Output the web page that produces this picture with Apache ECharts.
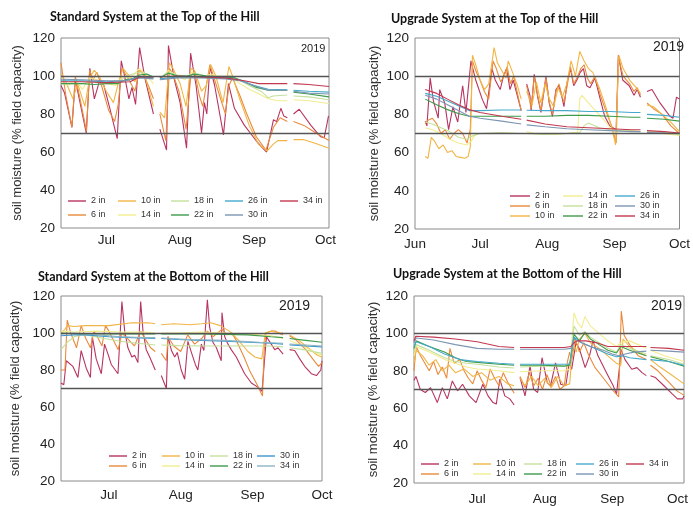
<!DOCTYPE html>
<html><head><meta charset="utf-8">
<script src="https://cdn.jsdelivr.net/npm/echarts@6/dist/echarts.min.js"></script>
<style>html,body{margin:0;padding:0;background:#fff}#c{width:693px;height:506px}</style>
</head><body><div id="c"></div>
<script>
// ---------- labels ----------
const depths = ['2 in','6 in','10 in','14 in','18 in','22 in','26 in','30 in','34 in'];
const monthTicks = [0,30,61,92,122];          // days since Jun 1
const monthLabels = ['Jun','Jul','Aug','Sep','Oct'];
const refLines = [100,70];
const panelTitles = ['Standard System at the Top of the Hill','Upgrade System at the Top of the Hill',
  'Standard System at the Bottom of the Hill','Upgrade System at the Bottom of the Hill'];
const yearLabel = '2019';
const yName = 'soil moisture (% field capacity)';
const G = null; // gap in record

// ---------- Panel 1: Standard, top of hill ----------
const p1_2in = [[11,95],[12.5,91],[15.6,73],[17,98],[18,92],[21.6,70],[23.1,104],[25,88],[27.3,98],[29,95],[31.5,83],[34.6,67],[36.3,108],[37.7,100],[39.5,88],[40.8,94],[42.3,85],[44,115],[46.2,99],[49.8,80],G,[52.5,72],[55.3,61],[56.1,116],[58.6,98],[61,86],[63.7,62],[65.4,112],[67.7,95],[70,70],[71.2,86],[72.2,80],[73.5,105],[75.5,95],[79.2,69],[81.3,96],[83.8,83],[88,74],[93.5,65],[97.3,60],[100.2,77],[101.5,76],[103.3,83],[104.5,79],[106,78],G,[108.6,80],[111,82.5],[115.9,74],[120,68],[121.5,67.5],[123.3,79]];
const p1_6in = [[11,107],[13,90],[15.6,73],[17,100],[19,88],[21.7,71],[23,103],[24.5,98],[26,102],[28,95],[31,82],[33.5,76],[35,85],[36.5,104],[38,101],[40,97],[42,92],[44,103],[46,100],[48,94],[49.8,88],G,[52.5,80],[55,66],[56.5,104],[58,101],[60.5,92],[63.5,72],[65.5,100],[67,103],[69,90],[70.5,84],[73.5,106],[75,100],[78,88],[80,80],[81.5,95],[83,99],[86,90],[89,80],[93,68],[97,61],[100.2,73],[103,78],[106,76],G,[108.6,76],[113,74],[118,70],[123.5,66]];
const p1_10in = [[11,101],[13,97],[16,88],[18,96],[21,84],[23,99],[25,103],[27,100],[30,92],[33,86],[35,96],[37,104],[39,101],[42,97],[44,103],[46,101],[48,92],[49.8,84],G,[52.5,81],[54.5,78],[56.5,107],[58,104],[61,96],[63.5,84],[65.5,104],[67,103],[70,92],[72,95],[73.8,106],[76,100],[79,86],[81.5,105],[83,100],[86,88],[90,74],[94,64],[97.5,60.5],[100,64],[102,66],[106,66],G,[108.6,66.5],[113,66.5],[118,64.5],[123.5,62]];
const p1_14in = [[11,97],[14,95],[17,98],[20,93],[23,99],[26,98],[30,96],[34,95],[37,100],[40,99],[44,104],[47,100],[49.8,96],G,[52.5,98],[56,103],[60,100],[63,98],[66,102],[70,99],[74,101],[78,99],[82,100],[86,96],[90,93],[95,90],[98,88],[102,87],[106,87],G,[108.6,87.5],[115,87],[123.5,85.5]];
const p1_18in = [[11,96],[15,96],[20,96],[25,97],[30,96.5],[35,96],[38,100],[44,102],[47,101],[49.8,99],G,[52.5,99],[56,102],[60,100.5],[64,100],[67,101.5],[72,100],[76,100],[82,100],[86,98],[90,95],[95,92],[98,88.5],[100,89.5],[106,90],G,[108.6,89.5],[115,89],[123.5,87.5]];
const p1_22in = [[11,96],[20,96],[25,95.5],[30,96],[35,96],[38,98],[41,98.5],[44,100.5],[47,101],[49.8,99.5],G,[52.5,99],[56,101.5],[60,100],[64,100],[67,101],[72,100],[78,99.5],[84,99],[88,97],[93,94],[98,92.5],[106,92.5],G,[108.6,91.5],[115,90.5],[123.5,89]];
const p1_26in = [[11,97.5],[20,97.5],[30,97],[38,97.5],[44,99.5],[49.8,99],G,[52.5,98.5],[60,99.5],[70,99.5],[80,99],[86,98],[92,95],[98,93],[106,92.8],G,[108.6,92.5],[115,92],[123.5,91.5]];
const p1_30in = [[11,98.3],[20,98],[30,97.5],[38,97.5],[44,99],[49.8,98.5],G,[52.5,98],[60,99],[70,99],[80,98.5],[86,97.5],[92,95],[98,92.5],[106,92.5],G,[108.6,92],[115,91],[123.5,90.5]];
const p1_34in = [[11,97],[20,97],[30,96.5],[40,97],[44,99.5],[49.8,99.5],G,[52.5,99.5],[60,100],[70,99.5],[80,99],[88,97.5],[94,96],[100,96],[106,96],G,[108.6,96],[115,95.5],[123.5,94.5]];

// ---------- Panel 2: Upgrade, top of hill ----------
const p2_2in = [[4.7,76.5],[5.5,74],[7,99],[8.5,87],[10.7,78],[11.4,93],[13.7,86],[15.5,72],[17.5,84],[19.7,76],[20.5,75],[22,95],[23.5,81],[25.8,108],[28,98],[31,88],[33,83],[35.5,104],[37,98],[39.3,93],[40.8,100],[42.3,104],[43.8,93],[45.3,98],[49,82],G,[51.5,96],[53,90],[53.6,82],[55,101],[56.6,89],[58.1,81],[60.4,100],[61.9,86],[63.4,79],[65,93],[66.4,95],[68,88],[68.7,84],[70.2,97],[71.7,104],[73.2,95],[74.7,98],[76.2,102],[77.7,104],[79.2,95],[80.7,94],[83,99],[85.2,89],[87.5,79],[89.8,74],[91.3,73],[92.8,72],[93.8,111],[95.8,98],[98.8,95],[101,90],[102.5,93],[104,89],G,[107,92],[109.3,93],[113,86],[117.6,79],[119,78],[120.6,89],[122,88]];
const p2_6in = [[4.7,75],[6,77],[8,78],[10,75],[12,70],[14,72],[16,67],[18,70],[20,72],[22,70],[24,65],[25.5,72],[26.5,108],[28,103],[30,98],[32,92],[34,88],[36,108],[37.5,104],[39.5,97],[41,100],[42.5,105],[44,96],[45.5,100],[49,82],G,[51.5,95],[53.6,83],[55,100],[56.6,90],[58.1,82],[60.4,99],[62,86],[63.4,80],[65,92],[66.4,96],[68.7,86],[70.2,95],[71.7,105],[73.2,96],[74.7,99],[76.5,104],[78,106],[79.5,99],[81,96],[83,100],[85.5,90],[88,82],[91,73],[92.8,65],[93.8,110],[96,100],[99,96],[101,92],[102.5,94],[104,90],G,[107,86],[110,83],[114,80],[118,74],[122,70]];
const p2_10in = [[4.7,58],[6,57],[7.5,68],[9,66],[11,62],[13,64],[15,60],[17,61],[19,58],[21,57.5],[23,57],[24.5,58],[25.5,63],[26.5,111],[28,106],[30,98],[32,93],[34,96],[36.5,115],[38,107],[40,103],[42,99],[43,108],[45,102],[47,96],[49,88],G,[51.5,92],[54,85],[56,97],[58,86],[60,96],[62,88],[64,84],[66,94],[68,89],[70,96],[72,108],[74,100],[76,113],[78,108],[80,104],[82,102],[85,94],[88,84],[91,72],[92.5,64],[94,111],[96,104],[99,98],[102,94],[104,91],G,[107,85],[110,84],[114,80],[118,76],[122,71]];
const p2_14in = [[4.7,73],[8,72],[12,70],[16,67],[20,65],[24,64],[26,66],[28,70],[30,70],[35,70],[40,70],[45,70],[49,70],G,[51.5,71],[55,70],[60,69.5],[65,69.5],[70,70],[73,70.5],[75,70.5],[76,88],[77,90],[80,86],[84,81],[88,76],[92,70],[96,72],[100,71.5],[104,71],G,[107,70.5],[114,70],[122,69]];
const p2_18in = [[4.7,76],[8,75],[12,73],[16,71],[20,68],[24,67],[26,68.5],[30,70],[40,70.5],[49,70],G,[51.5,70],[60,69.5],[70,70],[76,70.5],[78,74],[80,75.5],[85,73],[90,72],[95,71.5],[104,71],G,[107,71],[115,70.5],[122,69.5]];
const p2_22in = [[4.7,88],[10,85],[15,82.5],[20,80.5],[25,79],[30,79],[40,79],[49,79],G,[51.5,79],[60,79],[70,79.5],[80,79.5],[90,79],[100,78.5],[104,78.5],G,[107,78],[115,77.5],[122,76.5]];
const p2_26in = [[4.7,91],[10,89.5],[15,87],[20,84.5],[25,82],[30,82],[40,82.3],[49,82.3],G,[51.5,82.2],[60,82],[70,82],[80,81.5],[90,81.5],[100,81],[104,81],G,[107,80],[115,79.5],[122,78.5]];
const p2_30in = [[4.7,90],[10,88],[15,85],[20,82],[25,79],[30,78],[40,76.5],[49,75],G,[51.5,74.5],[60,73.5],[70,72.5],[80,72],[90,71.5],[100,71],[104,71],G,[107,70.5],[115,70.3],[122,70]];
const p2_34in = [[4.7,93],[10,91],[15,88],[20,85],[25,82.5],[30,81],[40,79],[49,77.5],G,[51.5,77],[60,75],[70,73.5],[80,73],[90,72.5],[100,72],[104,72],G,[107,71.5],[115,71],[122,70.3]];

// ---------- Panel 3: Standard, bottom of hill ----------
const p3_2in = [[9.3,73],[10.5,72],[11.6,85],[14.4,82],[16.6,76],[18,90.5],[20.2,81],[22,76],[22.8,98],[24.5,86],[26.7,78],[28.1,94],[29.6,88.6],[31,83],[33.9,78],[35.6,117],[36.8,101],[38.2,92],[39.9,87],[41.1,88],[42.5,84],[43.7,117],[44.7,101],[46.1,91],[47.6,87],[50,80],G,[52.6,77],[54.8,70],[55.5,98],[57,90.5],[58.4,87],[59.5,89.5],[61.2,80],[62.7,75],[64.1,95.5],[65.6,89.5],[67.3,83],[68.4,80],[69.9,94],[71,90.5],[72.5,118],[73.5,103],[74.9,95],[76.4,92],[78.5,85],[78.8,111],[80,98],[81.4,94],[82.8,91],[85,87],[88.6,78],[91.5,73],[94.4,70.6],[96.1,68.5],[98,98],[100.1,94],[101.6,91],[103,92],[105.2,88.6],G,[108,91],[110.2,90.5],[112.4,86],[114.5,82],[117.4,78],[119.6,77],[121.5,80],[122,85]];
const p3_6in = [[9.3,80],[11,80],[12,107],[13.5,100],[16,92],[18,104],[20,97],[22,92],[23.5,101],[25,98],[27,93],[28.5,104],[30,101],[32,96],[34,91],[35.6,100],[38,97],[41,93],[43.7,101],[46,96],[48,92],[50,90],G,[52.6,89],[54.8,85],[55.5,98],[58,93],[61,90],[64,99],[67,94],[70,97],[72.5,101],[75,98],[78.8,102],[81,99],[83,100],[85,96],[88,88],[91,79],[94,72],[96.3,66],[97,90],[97.7,100],[100,101],[102,101],[104,99.5],[105.2,99],G,[108,98.5],[111,96],[115,91],[118,86],[120.5,82],[122,84]];
const p3_10in = [[9.3,100],[11,102],[12,104],[15,103.5],[20,104],[30,104],[40,105.5],[47,105.5],[50,105],G,[52.6,104.5],[58,105],[65,104.5],[70,105],[74,105.5],[78,104],[82,101],[86,96],[90,90],[93,87],[96,86],[97.5,100],[100,101],[104,100],[105.2,100],G,[108,99],[112,96],[116,92],[120,88],[122,87]];
const p3_14in = [[9.3,101],[15,100.5],[25,101],[35,100.5],[45,100.5],[50,100],G,[52.6,100],[60,100],[70,100.5],[80,100],[88,99.5],[95,99],[100,98.5],[105.2,97],G,[108,96],[114,93],[118,90],[122,88]];
const p3_18in = [[9.3,91],[12,95],[15,98],[18,99],[22,98.5],[28,97],[35,95.5],[42,94.5],[50,93.5],G,[52.6,93.5],[60,93.2],[70,93],[80,93],[90,93],[95,93],[100,93],[105.2,92.5],G,[108,92],[114,91],[122,89]];
const p3_22in = [[9.3,100],[20,99.5],[30,99.5],[40,99.5],[50,99.5],G,[52.6,99.5],[70,99.5],[90,99],[100,98],[105.2,97.5],G,[108,97],[115,96],[122,95]];
const p3_30in = [[9.3,98.5],[15,99],[20,99],[30,98],[40,97.5],[50,97],G,[52.6,97],[60,96.5],[70,96],[80,95.5],[90,95],[100,94.5],[105.2,94],G,[108,93.5],[115,93],[122,92.5]];
const p3_34in = [[9.3,99.5],[15,100],[25,99],[35,98],[45,97.5],[50,97.5],G,[52.6,97.3],[65,96.5],[80,96],[95,95],[105.2,94.5],G,[108,94],[115,93.5],[122,93]];

// ---------- Panel 4: Upgrade, bottom of hill ----------
const p4_2in = [[1,75],[1.9,77],[3.9,70],[6.2,68.4],[8.6,71],[11.7,63],[14,71],[16.3,65],[18.6,74.6],[21,69.3],[23.3,72.8],[26.4,66.6],[29.5,63],[32.6,72.8],[35,66.6],[37.3,63],[38.8,62.2],[40.4,75.5],[42.7,66.6],[45,65],[47,61.7],G,[49.7,76.4],[52,66.6],[54.3,82.6],[55.9,70.2],[57.8,68.4],[59.8,87],[62.2,73.7],[63.7,72],[66,84.3],[68.4,72.8],[70.7,72],[72.3,84.3],[73.4,80.8],[75.4,95],[77,91.6],[79.6,81.7],[81.6,88],[83.2,96],[85.5,88],[89.4,79],[92.5,72],[94,67.5],[95.6,84.3],[96,91.6],[97.9,86],[101,80.8],[103.4,81.7],[105.7,79],[107.7,77.4],G,[109.6,77.4],[111.9,76.4],[115.8,72],[119.7,67.5],[122,65],[124.4,65],[125,66.6]];
const p4_6in = [[1,80],[2,93],[4,88],[6,84],[8,80],[10,85],[12,78],[14,82],[16,76],[17.5,92],[19.5,84],[22,86],[24,80],[26,76],[28,73],[30,80],[32,75],[34,71],[36,81],[38,76],[40,72],[42,79],[44,74],[47,68],G,[49.7,77],[52,71],[54,79],[56,72],[58,76],[60,70],[62,78],[64,72],[66,77],[68,70],[70,72],[71.5,85],[72.5,90],[73.5,86],[75,97],[77,90],[79,95],[81,89],[84,82],[88,76],[92,70],[95,66],[96.2,112],[97.5,99],[100,94],[104,88],[107.7,86],G,[109.6,83],[113,80],[118,74],[122,69],[125,67]];
const p4_10in = [[1,84],[2,91],[5,88],[8,83],[11,86],[14,80],[17,83],[20,79],[24,81],[28,77],[32,79],[36,75],[40,77],[44,73],[47,72],G,[49.7,76],[52,72],[55,77],[58,72],[61,76],[64,71],[67,77],[70,72],[72.5,73],[74,96],[75.5,90],[77,97],[79.5,100],[82,95],[86,92],[90,88],[94,84],[96,83],[97,97],[100,93],[104,90],[107.7,88],G,[109.6,86],[114,82],[119,78],[125,73]];
const p4_14in = [[1,88],[2,93],[8,90],[15,86],[20,84],[25,82],[30,81],[40,80],[47,79],G,[49.7,79.5],[60,80],[70,80],[72.5,81],[74.5,111],[76,106],[78,103],[79.5,109],[82,104],[86,100],[90,96],[94,93],[96,95],[100,96],[104,94],[107.7,92],G,[109.6,91],[116,88],[122,86],[125,85]];
const p4_18in = [[1,90],[2,94],[8,91],[15,87],[20,85],[25,84],[30,83.5],[40,82],[47,81.5],G,[49.7,82],[60,82.5],[70,82.5],[72.5,83],[74.5,104],[77,99],[79.5,101],[82,98],[86,95],[90,92],[94,90],[96,94],[100,92],[107.7,89],G,[109.6,88],[118,86],[125,83.5]];
const p4_22in = [[1,92],[2,96],[8,93],[15,90],[20,87],[25,85],[30,84.5],[40,83.5],[47,83],G,[49.7,83],[60,83],[70,82.5],[72.5,83],[74.5,99.5],[77,96],[79.5,100.5],[82,97],[86,94],[90,91],[94,89.5],[96,93],[100,91],[107.7,88],G,[109.6,87.5],[118,85],[125,82.5]];
const p4_26in = [[1,93],[2,95.5],[8,93],[15,89],[22,86],[30,85],[40,84],[47,83.5],G,[49.7,83.5],[60,83.5],[70,83.5],[72.5,83.5],[74.5,98],[78,95],[82,93],[86,91],[90,89],[94,87.5],[97,88],[100,87],[107.7,86],G,[109.6,86],[118,85],[125,83]];
const p4_30in = [[1,95],[2,97.5],[10,96.5],[20,94],[30,92],[40,91.5],[47,91.5],G,[49.7,91.5],[60,91.5],[70,91.5],[73,92],[74.5,97],[78,95],[82,93],[88,91],[92,89],[95,88],[98,89],[102,90],[107.7,90.5],G,[109.6,91],[118,90.5],[125,90]];
const p4_34in = [[1,96],[1.8,98.5],[10,98],[20,97],[30,95.5],[40,93],[47,92.5],G,[49.7,92.5],[60,92.5],[70,92.5],[73,93],[74.5,95],[76,96],[80,96],[85,95],[90,93],[95,93],[100,93],[107.7,93],G,[109.6,92.5],[118,92],[125,91]];

// ---------- styling / layout ----------
const baseColors = {'2 in':'#B8345F','6 in':'#E98A3C','10 in':'#F2B545','14 in':'#F2EC8E','18 in':'#C4E09B',
  '22 in':'#3D9B4A','26 in':'#45A9CC','30 in':'#7C96B2','34 in':'#C2384F'};
const FONT = "'Liberation Sans', Arial, sans-serif";

const panels = [
  { grid:{left:61,top:38,width:268,height:190}, xmin:11, xmax:123.5, nameGap:37, labelMargin:5,
    series:{'2 in':p1_2in,'6 in':p1_6in,'10 in':p1_10in,'14 in':p1_14in,'18 in':p1_18in,'22 in':p1_22in,'26 in':p1_26in,'30 in':p1_30in,'34 in':p1_34in},
    colors:{}, title:[50,10], year:[301,43,11],
    legend:{rows:[201,215], cols:[[68,['2 in','6 in']],[118,['10 in','14 in']],[171,['18 in','22 in']],[225,['26 in','30 in']],[280,['34 in']]], w:18} },
  { grid:{left:415,top:38,width:270,height:191}, xmin:0, xmax:122, nameGap:34, labelMargin:8,
    series:{'2 in':p2_2in,'6 in':p2_6in,'10 in':p2_10in,'14 in':p2_14in,'18 in':p2_18in,'22 in':p2_22in,'26 in':p2_26in,'30 in':p2_30in,'34 in':p2_34in},
    colors:{}, title:[391,12], year:[653,40,14],
    legend:{rows:[196,206,216], cols:[[510,['2 in','6 in','10 in']],[563,['14 in','18 in','22 in']],[615,['26 in','30 in','34 in']]], w:20} },
  { grid:{left:61,top:296,width:261,height:185}, xmin:9.3, xmax:122, nameGap:39, labelMargin:7,
    series:{'2 in':p3_2in,'6 in':p3_6in,'10 in':p3_10in,'14 in':p3_14in,'18 in':p3_18in,'22 in':p3_22in,'30 in':p3_30in,'34 in':p3_34in},
    colors:{'30 in':'#3A98CC','34 in':'#8CB4C2'}, title:[38,270], year:[279,299,14],
    legend:{rows:[456,466], cols:[[109,['2 in','6 in']],[162,['10 in','14 in']],[210,['18 in','22 in']],[257,['30 in','34 in']]], w:18} },
  { grid:{left:414,top:296,width:270,height:188}, xmin:1, xmax:125, nameGap:34, labelMargin:9,
    series:{'2 in':p4_2in,'6 in':p4_6in,'10 in':p4_10in,'14 in':p4_14in,'18 in':p4_18in,'22 in':p4_22in,'26 in':p4_26in,'30 in':p4_30in,'34 in':p4_34in},
    colors:{}, title:[393,267], year:[651,299,14],
    legend:{rows:[464,474], cols:[[421,['2 in','6 in']],[473,['10 in','14 in']],[524,['18 in','22 in']],[576,['26 in','30 in']],[626,['34 in']]], w:18} }
];

function toData(pts){
  const out=[];
  pts.forEach((p,i)=>{
    if(p===null){ out.push([(pts[i-1][0]+pts[i+1][0])/2,'-']); }
    else out.push(p);
  });
  return out;
}

const grids=[], xAxes=[], yAxes=[], series=[], titles=[], legends=[];
panels.forEach((P,k)=>{
  grids.push(Object.assign({show:true,borderColor:'#8a8a8a',borderWidth:1,containLabel:false},P.grid));
  const ticks = monthTicks.filter(t=>t>=P.xmin-0.01 && t<=P.xmax+0.01);
  xAxes.push({type:'value',gridIndex:k,min:P.xmin,max:P.xmax,
    axisLine:{show:false},axisTick:{show:false},splitLine:{show:false},
    axisLabel:{customValues:ticks,margin:P.labelMargin,fontSize:13.5,color:'#222',fontFamily:FONT,
      formatter:v=>{const i=monthTicks.indexOf(Math.round(v));return i>=0?monthLabels[i]:'';}}});
  yAxes.push({type:'value',gridIndex:k,min:20,max:120,interval:20,
    axisLine:{show:false},axisTick:{show:false},splitLine:{show:false},
    axisLabel:{fontSize:13.5,color:'#222',margin:6,fontFamily:FONT},
    name:yName,nameLocation:'middle',nameRotate:90,nameGap:P.nameGap,
    nameTextStyle:{fontSize:13,color:'#333',fontFamily:FONT}});
  const names = Object.keys(P.series);
  names.forEach((d,j)=>{
    const col = P.colors[d] || baseColors[d];
    const s = {type:'line',name:d+'|p'+k,xAxisIndex:k,yAxisIndex:k,data:toData(P.series[d]),
      symbol:'none',connectNulls:false,silent:true,animation:false,
      lineStyle:{width:1.1,color:col},itemStyle:{color:col}};
    if(j===names.length-1){
      s.markLine={silent:true,symbol:'none',animation:false,label:{show:false},
        lineStyle:{color:'#555',width:1.3,type:'solid'},data:refLines.map(v=>({yAxis:v}))};
    }
    series.push(s);
  });
  titles.push({text:panelTitles[k],left:P.title[0],top:P.title[1],padding:0,
    textStyle:{fontSize:12.5,fontWeight:'bold',fontFamily:'Lato, sans-serif',color:'#111'}});
  titles.push({text:yearLabel,left:P.year[0],top:P.year[1],padding:0,
    textStyle:{fontSize:P.year[2],fontWeight:'normal',fontFamily:FONT,color:'#222'}});
  P.legend.cols.forEach(([x,items])=>{
    items.forEach((d,r)=>{
      legends.push({data:[d+'|p'+k],left:x,top:P.legend.rows[r]-6,padding:0,orient:'horizontal',
        icon:'rect',itemWidth:P.legend.w,itemHeight:1.4,itemGap:0,selectedMode:false,
        formatter:n=>n.split('|')[0],
        textStyle:{fontSize:9,color:'#333',fontFamily:FONT,lineHeight:12}});
    });
  });
});

const chart = echarts.init(document.getElementById('c'),null,{renderer:'canvas'});
chart.setOption({backgroundColor:'#fff',animation:false,title:titles,legend:legends,
  grid:grids,xAxis:xAxes,yAxis:yAxes,series:series});
</script></body></html>
